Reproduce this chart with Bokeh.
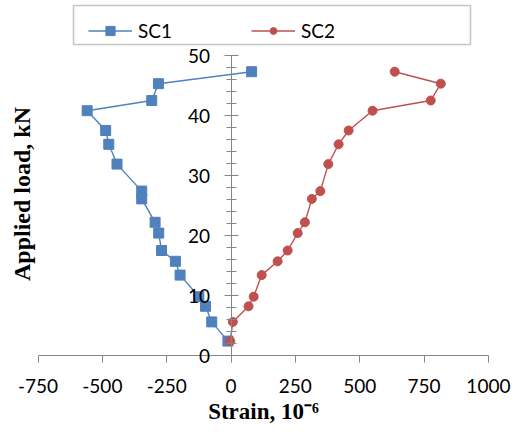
from bokeh.plotting import figure
from bokeh.models import (FixedTicker, Legend, LegendItem, Label, Range1d,
                          BoxAnnotation)
from bokeh.embed import file_html
from bokeh.resources import INLINE

# ---- data ----
load = [2.4, 5.6, 8.2, 9.8, 13.4, 15.7, 17.5, 20.4, 22.2, 26.1, 27.4,
        31.9, 35.2, 37.5, 40.8, 42.5, 45.3, 47.3]
sc1_strain = [-12, -75, -99, -125, -198, -216, -270, -281, -295, -347, -347,
              -443, -475, -487, -559, -308, -282, 80]
sc2_strain = [-3, 7, 68, 88, 119, 181, 220, 259, 287, 314, 347,
              378, 418, 457, 550, 776, 815, 636]
series_names = ["SC1", "SC2"]
x_ticks = [-750, -500, -250, 0, 250, 500, 750, 1000]
x_tick_labels = ["-750", "-500", "-250", "0", "250", "500", "750", "1000"]
y_ticks = [0, 10, 20, 30, 40, 50]
y_minor_ticks = [0, 2, 4, 6, 8, 10, 12, 14, 16, 18, 20, 22, 24, 26, 28, 30,
                 32, 34, 36, 38, 40, 42, 44, 46, 48, 50]
x_title = "Strain, 10\u207b\u2076"
y_title = "Applied load, kN"

# ---- layout / style constants ----
W, H = 512, 430
KX = 450.4 / 1750.0          # px per strain unit
KY = 6.0                     # px per kN
X_PX_AT_MIN = 37.5           # pixel column of x = -750
Y_PX_AT_ZERO = 355.0         # pixel row of y = 0

x_start = x_ticks[0] - X_PX_AT_MIN / KX
x_end = x_start + W / KX
y_start = -(H - Y_PX_AT_ZERO) / KY
y_end = y_start + H / KY


def px2x(px):
    return x_start + px / KX


def px2y(py):
    return y_start + (H - py) / KY


BLUE = "#4F81BD"
RED = "#C0504D"
AXIS = "#868686"
TICK_FONT = "Lato"
TITLE_FONT = "Liberation Serif"

p = figure(width=W, height=H, x_range=Range1d(x_start, x_end),
           y_range=Range1d(y_start, y_end),
           output_backend="svg", toolbar_location=None,
           min_border_left=0, min_border_right=0,
           min_border_top=0, min_border_bottom=0)
p.outline_line_color = None
p.grid.visible = False
p.background_fill_color = "white"
p.border_fill_color = "white"

l1 = p.line(sc1_strain, load, line_color=BLUE, line_width=1.4)
s1 = p.scatter(sc1_strain, load, marker="square", size=10,
               fill_color=BLUE, line_color=BLUE)
l2 = p.line(sc2_strain, load, line_color=RED, line_width=1.4)
s2 = p.scatter(sc2_strain, load, marker="circle", size=9,
               fill_color=RED, line_color=RED)

# x axis along y = 0
xa = p.xaxis[0]
xa.fixed_location = 0
xa.bounds = (x_ticks[0], x_ticks[-1])
xa.ticker = FixedTicker(ticks=x_ticks, minor_ticks=[])
xa.major_label_overrides = dict(zip(x_ticks, x_tick_labels))
xa.axis_line_color = AXIS
xa.major_tick_line_color = AXIS
xa.major_tick_in = 0
xa.major_tick_out = 7
xa.minor_tick_line_color = None
xa.major_label_text_font = TICK_FONT
xa.major_label_text_font_size = "19px"
xa.major_label_text_color = "black"
xa.major_label_standoff = 16
xa.axis_label = x_title
xa.axis_label_text_font = TITLE_FONT
xa.axis_label_text_font_style = "bold"
xa.axis_label_text_font_size = "23px"
xa.axis_label_text_color = "black"
xa.axis_label_standoff = 3

# y axis along x = 0
ya = p.yaxis[0]
ya.fixed_location = 0
ya.bounds = (y_ticks[0], y_ticks[-1])
ya.ticker = FixedTicker(ticks=y_ticks, minor_ticks=y_minor_ticks)
ya.axis_line_color = AXIS
ya.major_tick_line_color = AXIS
ya.minor_tick_line_color = AXIS
ya.major_tick_in = 7
ya.major_tick_out = 7
ya.minor_tick_in = 5
ya.minor_tick_out = 5
ya.major_label_text_font = TICK_FONT
ya.major_label_text_font_size = "19px"
ya.major_label_text_color = "black"
ya.major_label_standoff = 14

ylab = Label(x=px2x(21.5), y=px2y(193.5), text=y_title, angle=1.5707963,
             text_align="center", text_baseline="middle",
             text_font=TITLE_FONT, text_font_style="bold",
             text_font_size="24px", text_color="black")
p.add_layout(ylab)

# legend frame
box = BoxAnnotation(left=px2x(73), right=px2x(470), top=px2y(5),
                    bottom=px2y(44), fill_color="white", fill_alpha=1,
                    line_color="#404040", line_width=1.5)
p.add_layout(box)

common = dict(orientation="horizontal", label_text_font=TICK_FONT,
              label_text_font_size="19px", label_text_color="black",
              glyph_width=44, label_standoff=6, margin=0,
              border_line_color=None, background_fill_alpha=0)
leg1 = Legend(items=[LegendItem(label=series_names[0], renderers=[l1, s1])],
              location=(88, H - 42), glyph_height=23, padding=5, **common)
leg2 = Legend(items=[LegendItem(label=series_names[1], renderers=[l2, s2])],
              location=(251, H - 42), glyph_height=17, padding=5, **common)
p.add_layout(leg1)
p.add_layout(leg2)

open("out.html", "w").write(file_html(p, INLINE))
